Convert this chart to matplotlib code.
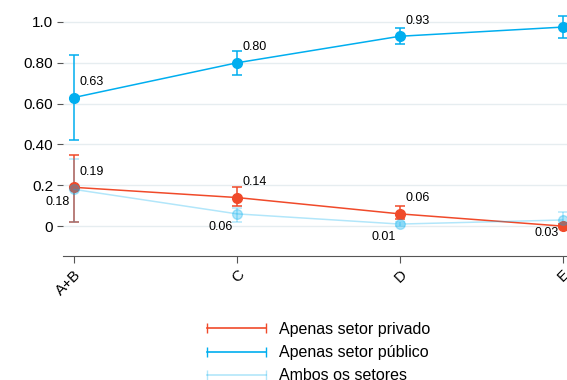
import matplotlib.pyplot as plt
from matplotlib.lines import Line2D

plt.rcParams["font.family"] = ["Liberation Sans", "DejaVu Sans"]

categories = ["A+B", "C", "D", "E"]

privado = [0.19, 0.14, 0.06, 0.00]
privado_lo = [0.02, 0.10, 0.035, -0.005]
privado_hi = [0.35, 0.19, 0.10, 0.01]

publico = [0.63, 0.80, 0.93, 0.975]
publico_lo = [0.42, 0.74, 0.89, 0.92]
publico_hi = [0.84, 0.86, 0.97, 1.03]

ambos = [0.18, 0.06, 0.01, 0.03]
ambos_lo = [0.02, 0.02, 0.0, 0.0]
ambos_hi = [0.33, 0.09, 0.02, 0.07]

red = "#F04A2A"
blue = "#00AEEF"

fig = plt.figure(figsize=(5.67, 3.8), dpi=100)
ax = fig.add_axes([0.111, 0.326, 0.91, 0.643])

x = list(range(len(categories)))


def draw(vals, lo, hi, color, alpha):
    err = [[v - l for v, l in zip(vals, lo)], [h - v for v, h in zip(vals, hi)]]
    ax.errorbar(x, vals, yerr=err, color=color, alpha=alpha, marker="o",
                markersize=7, linewidth=1.1, capsize=3.5, elinewidth=1.1,
                capthick=1.1, zorder=3)


draw(privado, privado_lo, privado_hi, red, 1.0)
draw(publico, publico_lo, publico_hi, blue, 1.0)
draw(ambos, ambos_lo, ambos_hi, blue, 0.3)

# value labels
for xi, v in zip(x, privado):
    ax.annotate(f"{v:.2f}", (xi, v), xytext=(4, 7), textcoords="offset points",
                fontsize=9, ha="left", va="bottom")
for xi, v in zip(x, publico):
    ax.annotate(f"{v:.2f}", (xi, v), xytext=(4, 7), textcoords="offset points",
                fontsize=9, ha="left", va="bottom")
for xi, v in zip(x, ambos):
    ax.annotate(f"{v:.2f}", (xi, v), xytext=(-3, -5), textcoords="offset points",
                fontsize=9, ha="right", va="top")

ax.set_xlim(-0.068, 3.1)
ax.set_ylim(-0.147, 1.05)
ax.set_xticks(x)
ax.set_xticklabels(categories, rotation=45, ha="right", rotation_mode="anchor", fontsize=11)
ax.set_yticks([0, 0.2, 0.4, 0.6, 0.8, 1.0])
ax.set_yticklabels(["0", "0.2", "0.40", "0.60", "0.80", "1.0"], fontsize=11)

ax.grid(axis="y", color="#E6EDF0", linewidth=1)
ax.set_axisbelow(True)
for s in ["top", "right", "left"]:
    ax.spines[s].set_visible(False)
ax.spines["bottom"].set_color("#555555")
ax.tick_params(axis="y", length=4, color="#555555", pad=3)
ax.tick_params(axis="x", length=5, color="#555555", pad=3)

handles = [
    Line2D([0], [0], color=red, marker="|", markersize=7, linewidth=1.2),
    Line2D([0], [0], color=blue, marker="|", markersize=7, linewidth=1.2),
    Line2D([0], [0], color=blue, alpha=0.3, marker="|", markersize=7, linewidth=1.2),
]
fig.legend(handles, ["Apenas setor privado", "Apenas setor público", "Ambos os setores"],
           loc="upper left", bbox_to_anchor=(0.345, 0.17), frameon=False,
           numpoints=2, handlelength=4.3, fontsize=11.5, labelspacing=0.52,
           handletextpad=0.55, borderaxespad=0)

fig.savefig("out.png", dpi=100)
